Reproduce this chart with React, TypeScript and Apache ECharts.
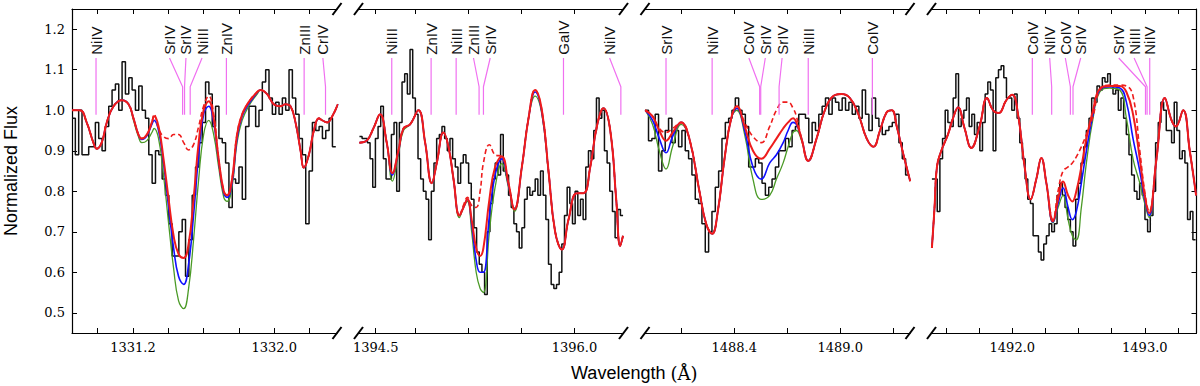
import React, { useEffect, useRef } from "react";
import * as echarts from "echarts";

// ---------- axes ----------
const panelRanges: number[][] = [
  [1330.855, 1332.355],
  [1394.37, 1396.37],
  [1487.895, 1489.395],
  [1491.39, 1493.39],
];
const panelTicks: number[][] = [
  [1331.0, 1331.2, 1331.4, 1331.6, 1331.8, 1332.0, 1332.2],
  [1394.5, 1394.8, 1395.2, 1395.6, 1396.0],
  [1488.1, 1488.4, 1488.7, 1489.0, 1489.3],
  [1491.5, 1491.75, 1492.0, 1492.25, 1492.5, 1492.75, 1493.0, 1493.25],
];
const panelTickLabels: number[][] = [
  [1331.2, 1332.0],
  [1394.5, 1396.0],
  [1488.4, 1489.0],
  [1492.0, 1493.0],
];
const yTicks = [0.5, 0.6, 0.7, 0.8, 0.9, 1.0, 1.1, 1.2];

// ---------- observed spectrum (binned) ----------
const p1Start = 1330.855;
const p1Bin = 0.0189;
const p1Flux = [
  0.98, 0.89, 1.0, 0.89, 0.89, 0.91, 0.91, 0.97, 0.93, 0.9,
  0.96, 1.01, 1.05, 1.065, 1.0, 1.12, 1.04, 1.08, 1.05, 1.0,
  1.06, 1.0, 0.98, 0.89, 0.82, 0.9, 0.89, 0.83, 0.79, 0.72,
  0.64, 0.64, 0.7, 0.73, 0.59, 0.68, 0.79, 0.86, 0.92, 0.97,
  1.07, 1.04, 0.96, 1.01, 0.93, 0.92, 0.87, 0.76, 0.83, 0.82,
  0.86, 0.78, 0.96, 1.01, 1.01, 0.96, 1.0, 1.07, 1.1, 1.03,
  0.99, 1.02, 0.99, 1.03, 1.0, 1.1, 1.03, 0.99, 0.93, 0.89,
  0.72, 0.85, 0.97, 0.95, 0.96, 0.93, 0.95, 0.98, 0.91,
];
const p2Start = 1394.377;
const p2Bin = 0.0201;
const p2Flux = [
  0.935, 0.93, 0.93, 0.92, 0.88, 0.81, 0.93, 0.96, 1.01, 0.88,
  0.83, 0.83, 0.94, 0.97, 0.8, 0.97, 1.07, 1.09, 1.04, 1.15,
  1.03, 0.99, 0.88, 0.83, 0.8, 0.78, 0.68, 0.8, 0.87, 0.93,
  0.94, 0.96, 0.93, 0.9, 0.93, 0.88, 0.86, 0.82, 0.87, 0.89,
  0.87, 0.82, 0.78, 0.71, 0.65, 0.62, 0.6, 0.545, 0.7, 0.77,
  0.83, 0.87, 0.84, 0.94, 0.85, 0.84, 0.79, 0.76, 0.72, 0.7,
  0.66, 0.71, 0.78, 0.81, 0.79, 0.8, 0.83, 0.79, 0.85, 0.79,
  0.73, 0.62, 0.57, 0.56, 0.57, 0.6, 0.67, 0.74, 0.81, 0.77,
  0.72, 0.8, 0.74, 0.78, 0.73, 0.86, 0.9, 0.88, 0.95, 1.03,
  0.98, 1.0, 0.9, 0.87, 0.8, 0.75, 0.685, 0.755, 0.74,
];
const p3Start = 1487.896;
const p3Bin = 0.0189;
const p3Flux = [
  1.0, 0.925, 0.93, 0.99, 0.85, 0.9, 0.95, 0.98, 0.92, 0.95,
  0.91, 0.95, 0.9, 0.88, 0.84, 0.78, 0.77, 0.72, 0.65, 0.7,
  0.75, 0.81, 0.85, 0.93, 0.97, 0.98, 1.0, 1.03, 1.0, 0.99,
  0.96, 0.86, 0.86, 0.88, 0.87, 0.82, 0.79, 0.81, 0.83, 0.86,
  0.9, 0.9, 0.93, 0.91, 0.95, 0.96, 0.99, 0.99, 0.98, 0.92,
  0.97, 0.95, 0.99, 1.01, 1.03, 0.99, 1.03, 1.02, 1.0, 1.03,
  1.0, 1.02, 0.99, 1.01, 0.98, 1.05, 0.99, 0.95, 1.03, 0.98,
  0.96, 0.94, 0.95, 0.96, 0.97, 0.99, 0.92, 0.88, 0.84,
];
const p4Start = 1491.393;
const p4Bin = 0.0201;
const p4Flux = [
  0.83, 0.83, 0.75, 0.88, 0.93, 1.0, 0.97, 0.96, 1.03, 1.09,
  0.96, 0.98, 1.0, 1.03, 0.96, 0.99, 0.94, 0.97, 0.9, 0.97,
  1.04, 1.07, 1.05, 0.9, 1.08, 1.1, 1.11, 1.08, 1.03, 1.03,
  1.0, 1.04, 0.98, 0.92, 0.88, 0.83, 0.78, 0.77, 0.69, 0.69,
  0.65, 0.63, 0.67, 0.69, 0.72, 0.7, 0.72, 0.79, 0.82, 0.79,
  0.76, 0.73, 0.7, 0.665, 0.78, 0.82, 0.87, 0.91, 0.95, 0.98,
  1.03, 1.02, 1.06, 1.05, 1.08, 1.07, 1.09, 1.06, 1.04, 1.05,
  1.0, 1.03, 0.98, 0.94, 0.89, 0.84, 0.8, 0.78, 0.82, 0.79,
  0.73, 0.7, 0.74, 0.8, 0.92, 0.97, 1.02, 1.0, 0.95, 0.95,
  0.92, 1.02, 0.95, 0.88, 0.9, 0.87, 0.73, 0.75, 0.68,
];

// ---------- model curves ----------
const p1Wave = [
  1330.855, 1330.9, 1330.938, 1330.976, 1330.995, 1331.023, 1331.052, 1331.09, 1331.137, 1331.175,
  1331.203, 1331.231, 1331.25, 1331.279, 1331.307, 1331.32, 1331.345, 1331.373, 1331.402, 1331.43,
  1331.458, 1331.487, 1331.515, 1331.543, 1331.572, 1331.6, 1331.629, 1331.657, 1331.685, 1331.714,
  1331.733, 1331.761, 1331.789, 1331.818, 1331.855, 1331.903, 1331.922, 1331.959, 1331.997, 1332.035,
  1332.063, 1332.092, 1332.12, 1332.149, 1332.167, 1332.196, 1332.224, 1332.253, 1332.272, 1332.3,
  1332.328, 1332.36,
];
const p1Red = [
  1.0, 1.0, 0.97, 0.92, 0.905, 0.92, 0.97, 1.01, 1.025, 1.015,
  0.98, 0.94, 0.93, 0.94, 0.97, 0.985, 0.96, 0.88, 0.78, 0.69,
  0.645, 0.635, 0.67, 0.78, 0.92, 1.0, 1.022, 0.98, 0.88, 0.8,
  0.79, 0.83, 0.94, 0.99, 1.02, 1.045, 1.05, 1.04, 1.015, 1.01,
  1.015, 1.01, 0.97, 0.9, 0.858, 0.89, 0.95, 0.98, 0.975, 0.97,
  0.985, 1.015,
];
const p1Blue = [
  1.0, 1.0, 0.97, 0.92, 0.905, 0.92, 0.97, 1.01, 1.025, 1.015,
  0.98, 0.94, 0.928, 0.937, 0.965, 0.975, 0.95, 0.87, 0.76, 0.66,
  0.59, 0.57, 0.62, 0.74, 0.89, 0.99, 1.01, 0.97, 0.875, 0.795,
  0.785, 0.82, 0.93, 0.985, 1.015, 1.043, 1.05, 1.04, 1.015, 1.01,
  1.015, 1.01, 0.97, 0.9, 0.858, 0.89, 0.95, 0.98, 0.975, 0.97,
  0.985, 1.015,
];
const p1Green = [
  1.0, 1.0, 0.97, 0.92, 0.905, 0.92, 0.97, 1.01, 1.025, 1.015,
  0.975, 0.935, 0.92, 0.925, 0.945, 0.955, 0.93, 0.84, 0.72, 0.61,
  0.53, 0.51, 0.56, 0.68, 0.83, 0.94, 0.975, 0.94, 0.86, 0.785,
  0.775, 0.81, 0.92, 0.975, 1.01, 1.04, 1.05, 1.04, 1.015, 1.01,
  1.015, 1.01, 0.97, 0.9, 0.858, 0.89, 0.95, 0.98, 0.975, 0.97,
  0.985, 1.015,
];
const p1Dash = [
  1.0, 1.0, 0.97, 0.92, 0.905, 0.92, 0.97, 1.01, 1.025, 1.015,
  0.98, 0.94, 0.93, 0.94, 0.97, 0.99, 0.955, 0.935, 0.93, 0.94,
  0.94, 0.92, 0.902, 0.915, 0.96, 1.01, 1.035, 0.99, 0.88, 0.8,
  0.79, 0.83, 0.94, 0.99, 1.02, 1.045, 1.05, 1.04, 1.015, 1.01,
  1.015, 1.01, 0.97, 0.9, 0.858, 0.89, 0.95, 0.98, 0.975, 0.97,
  0.985, 1.015,
];

const p2Wave = [
  1394.377, 1394.432, 1394.482, 1394.533, 1394.583, 1394.626, 1394.671, 1394.709, 1394.759, 1394.822,
  1394.873, 1394.923, 1394.961, 1395.011, 1395.049, 1395.087, 1395.132, 1395.162, 1395.192, 1395.224,
  1395.258, 1395.288, 1395.313, 1395.358, 1395.401, 1395.452, 1395.502, 1395.547, 1395.603, 1395.653,
  1395.703, 1395.754, 1395.804, 1395.854, 1395.905, 1395.955, 1396.018, 1396.068, 1396.119, 1396.169,
  1396.219, 1396.27, 1396.315, 1396.345, 1396.366,
];
const p2Red = [
  0.92, 0.925, 0.955, 0.99, 0.92, 0.845, 0.9, 0.955, 0.965, 1.0,
  0.92, 0.82, 0.87, 0.945, 0.91, 0.83, 0.74, 0.76, 0.78, 0.73,
  0.66, 0.64, 0.66, 0.78, 0.86, 0.886, 0.82, 0.755, 0.86, 0.98,
  1.05, 1.0, 0.85, 0.7, 0.656, 0.73, 0.795, 0.795, 0.86, 0.96,
  1.005, 0.95, 0.78, 0.665, 0.69,
];
const p2Blue = [
  0.92, 0.925, 0.955, 0.99, 0.92, 0.84, 0.897, 0.955, 0.965, 1.0,
  0.92, 0.82, 0.87, 0.945, 0.91, 0.83, 0.74, 0.76, 0.78, 0.72,
  0.63, 0.6, 0.6, 0.74, 0.84, 0.88, 0.815, 0.755, 0.86, 0.98,
  1.045, 0.995, 0.85, 0.7, 0.656, 0.73, 0.795, 0.795, 0.86, 0.96,
  1.005, 0.95, 0.78, 0.665, 0.69,
];
const p2Green = [
  0.92, 0.925, 0.955, 0.99, 0.92, 0.825, 0.89, 0.95, 0.965, 1.0,
  0.92, 0.82, 0.87, 0.945, 0.91, 0.83, 0.735, 0.76, 0.775, 0.7,
  0.6, 0.56, 0.55, 0.7, 0.81, 0.868, 0.81, 0.75, 0.86, 0.98,
  1.035, 0.99, 0.845, 0.7, 0.656, 0.73, 0.795, 0.795, 0.86, 0.96,
  1.005, 0.95, 0.78, 0.665, 0.69,
];
const p2Dash = [
  0.92, 0.925, 0.955, 0.99, 0.92, 0.845, 0.9, 0.955, 0.965, 1.0,
  0.92, 0.82, 0.87, 0.945, 0.91, 0.83, 0.74, 0.765, 0.785, 0.765,
  0.76, 0.8, 0.87, 0.915, 0.89, 0.886, 0.82, 0.755, 0.86, 0.98,
  1.05, 1.0, 0.85, 0.7, 0.656, 0.73, 0.795, 0.795, 0.86, 0.96,
  1.005, 0.95, 0.78, 0.665, 0.69,
];

const p3Wave = [
  1487.896, 1487.938, 1487.976, 1488.014, 1488.051, 1488.099, 1488.146, 1488.203, 1488.241, 1488.275,
  1488.307, 1488.345, 1488.383, 1488.415, 1488.459, 1488.506, 1488.553, 1488.601, 1488.639, 1488.677,
  1488.705, 1488.733, 1488.752, 1488.781, 1488.819, 1488.866, 1488.913, 1488.961, 1489.008, 1489.055,
  1489.103, 1489.15, 1489.188, 1489.225, 1489.263, 1489.292, 1489.32, 1489.358, 1489.396,
];
const p3Red = [
  1.0, 0.985, 0.95, 0.925, 0.945, 0.97, 0.93, 0.8, 0.72, 0.695,
  0.75, 0.88, 0.98, 1.01, 0.96, 0.9, 0.88, 0.905, 0.93, 0.955,
  0.97, 0.98, 0.97, 0.93, 0.875, 0.93, 1.0, 1.035, 1.04, 1.03,
  0.99, 0.93, 0.91, 0.95, 0.995, 1.0, 0.96, 0.89, 0.825,
];
const p3Blue = [
  1.0, 0.975, 0.93, 0.895, 0.935, 0.97, 0.93, 0.8, 0.72, 0.695,
  0.75, 0.88, 0.98, 1.005, 0.95, 0.86, 0.83, 0.87, 0.89, 0.92,
  0.95, 0.97, 0.965, 0.93, 0.875, 0.93, 1.0, 1.035, 1.04, 1.03,
  0.99, 0.93, 0.91, 0.95, 0.995, 1.0, 0.96, 0.89, 0.825,
];
const p3Green = [
  1.0, 0.965, 0.9, 0.855, 0.91, 0.965, 0.93, 0.8, 0.72, 0.695,
  0.75, 0.88, 0.98, 1.0, 0.94, 0.83, 0.78, 0.79, 0.83, 0.87,
  0.91, 0.945, 0.95, 0.925, 0.875, 0.93, 1.0, 1.035, 1.04, 1.03,
  0.99, 0.93, 0.91, 0.95, 0.995, 1.0, 0.96, 0.89, 0.825,
];
const p3Dash = [
  1.0, 0.985, 0.955, 0.945, 0.955, 0.97, 0.93, 0.8, 0.72, 0.695,
  0.75, 0.88, 0.98, 1.01, 0.97, 0.935, 0.92, 0.96, 1.0, 1.02,
  1.02, 1.005, 0.985, 0.93, 0.875, 0.93, 1.0, 1.035, 1.04, 1.03,
  0.99, 0.93, 0.91, 0.95, 0.995, 1.0, 0.96, 0.89, 0.825,
];

const p4Wave = [
  1491.393, 1491.413, 1491.431, 1491.464, 1491.514, 1491.552, 1491.59, 1491.64, 1491.69, 1491.753,
  1491.809, 1491.854, 1491.897, 1491.955, 1492.0, 1492.043, 1492.093, 1492.138, 1492.181, 1492.219,
  1492.257, 1492.307, 1492.345, 1492.383, 1492.421, 1492.453, 1492.483, 1492.521, 1492.559, 1492.609,
  1492.66, 1492.735, 1492.811, 1492.861, 1492.911, 1492.962, 1492.999, 1493.032, 1493.088, 1493.151,
  1493.202, 1493.234, 1493.289, 1493.339, 1493.387,
];
const p4Red = [
  0.66, 0.76, 0.86, 0.9, 0.94, 0.98, 1.007, 0.955, 0.907, 0.96,
  1.03, 1.0, 0.993, 1.025, 1.038, 0.99, 0.86, 0.78, 0.83, 0.882,
  0.82, 0.726, 0.78, 0.824, 0.79, 0.775, 0.8, 0.86, 0.93, 1.0,
  1.053, 1.06, 1.06, 1.045, 0.99, 0.88, 0.79, 0.746, 0.88, 1.03,
  0.975, 0.96, 1.0, 0.9, 0.79,
];
const p4Blue = [
  0.66, 0.76, 0.86, 0.9, 0.94, 0.98, 1.007, 0.955, 0.907, 0.96,
  1.03, 1.0, 0.993, 1.025, 1.038, 0.99, 0.86, 0.78, 0.83, 0.882,
  0.82, 0.724, 0.77, 0.808, 0.76, 0.73, 0.75, 0.82, 0.9, 0.99,
  1.05, 1.058, 1.055, 1.02, 0.93, 0.85, 0.78, 0.74, 0.88, 1.03,
  0.975, 0.96, 1.0, 0.9, 0.79,
];
const p4Green = [
  0.66, 0.76, 0.86, 0.9, 0.94, 0.98, 1.007, 0.955, 0.907, 0.96,
  1.03, 1.0, 0.993, 1.025, 1.038, 0.99, 0.86, 0.78, 0.83, 0.882,
  0.82, 0.722, 0.76, 0.79, 0.73, 0.69, 0.68, 0.76, 0.87, 0.98,
  1.045, 1.055, 1.05, 0.98, 0.88, 0.82, 0.77, 0.735, 0.88, 1.03,
  0.975, 0.96, 1.0, 0.9, 0.79,
];
const p4Dash = [
  0.66, 0.76, 0.86, 0.9, 0.94, 0.98, 1.007, 0.955, 0.907, 0.96,
  1.03, 1.0, 0.993, 1.025, 1.038, 0.99, 0.86, 0.78, 0.83, 0.882,
  0.82, 0.73, 0.8, 0.85, 0.86, 0.87, 0.885, 0.91, 0.94, 0.985,
  1.05, 1.062, 1.062, 1.06, 1.035, 0.9, 0.8, 0.75, 0.88, 1.03,
  0.975, 0.96, 1.0, 0.9, 0.79,
];

// ---------- line identifications ----------
const p1Ions = ["NiIV", "SrIV", "SrIV", "NiIII", "ZnIV", "ZnIII", "CrIV"];
const p1LabelX = [1330.991, 1331.407, 1331.5, 1331.591, 1331.729, 1332.169, 1332.275];
const p1LineX = [1330.991, 1331.481, 1331.492, 1331.524, 1331.729, 1332.169, 1332.29];
const p2Ions = ["NiIII", "ZnIV", "NiIII", "ZnIII", "SrIV", "GaIV", "NiIV"];
const p2LabelX = [1394.621, 1394.918, 1395.107, 1395.238, 1395.364, 1395.917, 1396.265];
const p2LineX = [1394.621, 1394.918, 1395.107, 1395.28, 1395.313, 1395.917, 1396.35];
const p3Ions = ["SrIV", "NiIV", "CoIV", "SrIV", "SrIV", "NiIII", "CoIV"];
const p3LabelX = [1488.014, 1488.275, 1488.483, 1488.576, 1488.671, 1488.819, 1489.182];
const p3LineX = [1488.014, 1488.275, 1488.544, 1488.55, 1488.654, 1488.819, 1489.182];
const p4Ions = ["CoIV", "NiIV", "CoIV", "SrIV", "SrIV", "NiIII", "NiIV"];
const p4LabelX = [1492.151, 1492.282, 1492.4, 1492.516, 1492.803, 1492.919, 1493.037];
const p4LineX = [1492.151, 1492.297, 1492.438, 1492.458, 1493.005, 1493.017, 1493.037];

// ---------- layout / style (not data) ----------
const GRID_LEFTS = [72, 358.5, 645, 931.5];
const GRID_W = 265;
const GRID_TOP = 9;
const GRID_H = 324;
const Y_MIN = 0.45;
const Y_MAX = 1.25;
const ID_TOP_Y = 1.129;
const ID_KINK_Y = 1.058;
const ID_BOTTOM_Y = 0.989;
const ID_LABEL_Y = 1.137;

const RED = "#ee1c1c";
const BLUE = "#1010ff";
const GREEN = "#4a9a26";
const MAGENTA = "#f070f0";
const SERIF = '"DejaVu Serif", serif';
const SANS = '"Liberation Sans", Arial, sans-serif';

export default function App() {
  const ref = useRef<HTMLDivElement>(null);

  useEffect(() => {
    if (!ref.current) return;
    const chart = echarts.init(ref.current, undefined, { renderer: "svg" });

    const hist = [
      { start: p1Start, bin: p1Bin, flux: p1Flux },
      { start: p2Start, bin: p2Bin, flux: p2Flux },
      { start: p3Start, bin: p3Bin, flux: p3Flux },
      { start: p4Start, bin: p4Bin, flux: p4Flux },
    ];
    const models = [
      { wave: p1Wave, red: p1Red, blue: p1Blue, green: p1Green, dash: p1Dash },
      { wave: p2Wave, red: p2Red, blue: p2Blue, green: p2Green, dash: p2Dash },
      { wave: p3Wave, red: p3Red, blue: p3Blue, green: p3Green, dash: p3Dash },
      { wave: p4Wave, red: p4Red, blue: p4Blue, green: p4Green, dash: p4Dash },
    ];
    const ids = [
      { ions: p1Ions, lx: p1LabelX, x: p1LineX },
      { ions: p2Ions, lx: p2LabelX, x: p2LineX },
      { ions: p3Ions, lx: p3LabelX, x: p3LineX },
      { ions: p4Ions, lx: p4LabelX, x: p4LineX },
    ];

    const axisLine = { show: true, onZero: false, lineStyle: { color: "#000", width: 1.2 } };
    const grids: any[] = [];
    const xAxes: any[] = [];
    const yAxes: any[] = [];
    const series: any[] = [];

    for (let k = 0; k < 4; k++) {
      grids.push({
        left: GRID_LEFTS[k],
        top: GRID_TOP,
        width: GRID_W,
        height: GRID_H,
        containLabel: false,
        outerBoundsMode: "none",
      });
      const [mn, mx] = panelRanges[k];
      xAxes.push({
        type: "value",
        gridIndex: k,
        position: "bottom",
        min: mn,
        max: mx,
        axisLine,
        axisTick: {
          show: true,
          inside: true,
          length: 5,
          customValues: panelTicks[k],
          lineStyle: { color: "#000", width: 1 },
        },
        axisLabel: {
          show: true,
          customValues: panelTickLabels[k],
          formatter: (v: number) => v.toFixed(1),
          fontFamily: SERIF,
          fontSize: 13,
          color: "#000",
          margin: 8,
        },
        splitLine: { show: false },
      });
      xAxes.push({
        type: "value",
        gridIndex: k,
        position: "top",
        min: mn,
        max: mx,
        axisLine,
        axisTick: {
          show: true,
          inside: true,
          length: 5,
          customValues: panelTicks[k],
          lineStyle: { color: "#000", width: 1 },
        },
        axisLabel: { show: false },
        splitLine: { show: false },
      });
      if (k === 0 || k === 3) {
        yAxes.push({
          type: "value",
          gridIndex: k,
          position: k === 0 ? "left" : "right",
          min: Y_MIN,
          max: Y_MAX,
          axisLine,
          axisTick: {
            show: true,
            inside: true,
            length: 5,
            customValues: yTicks,
            lineStyle: { color: "#000", width: 1 },
          },
          axisLabel: {
            show: k === 0,
            customValues: yTicks,
            formatter: (v: number) => v.toFixed(1),
            fontFamily: SERIF,
            fontSize: 13,
            color: "#000",
            margin: 7,
          },
          splitLine: { show: false },
        });
      } else {
        yAxes.push({ type: "value", gridIndex: k, min: Y_MIN, max: Y_MAX, show: false, splitLine: { show: false } });
      }

      // observed histogram
      const h = hist[k];
      const hdata: number[][] = h.flux.map((v, i) => [h.start + i * h.bin, v]);
      hdata.push([h.start + h.flux.length * h.bin, h.flux[h.flux.length - 1]]);
      series.push({
        type: "line",
        xAxisIndex: 2 * k,
        yAxisIndex: k,
        data: hdata,
        step: "end",
        showSymbol: false,
        silent: true,
        clip: true,
        lineStyle: { color: "#111", width: 1.5 },
      });

      const m = models[k];
      const mk = (vals: number[], color: string, width: number, type: any) => ({
        type: "line",
        xAxisIndex: 2 * k,
        yAxisIndex: k,
        data: m.wave.map((x, i) => [x, vals[i]]),
        smooth: 0.45,
        showSymbol: false,
        silent: true,
        clip: true,
        lineStyle: { color, width, type },
      });
      series.push(mk(m.green, GREEN, 1.3, "solid"));
      series.push(mk(m.blue, BLUE, 1.6, "solid"));
      series.push(mk(m.dash, RED, 1.6, [5, 3]));
      series.push(mk(m.red, RED, 2, "solid"));

      // identification markers
      const id = ids[k];
      id.ions.forEach((_, j) => {
        series.push({
          type: "line",
          xAxisIndex: 2 * k,
          yAxisIndex: k,
          data: [
            [id.lx[j], ID_TOP_Y],
            [id.x[j], ID_KINK_Y],
            [id.x[j], ID_BOTTOM_Y],
          ],
          showSymbol: false,
          silent: true,
          lineStyle: { color: MAGENTA, width: 1.2 },
        });
      });
      series.push({
        type: "custom",
        xAxisIndex: 2 * k,
        yAxisIndex: k,
        silent: true,
        clip: false,
        data: id.lx.map((x) => [x, ID_LABEL_Y]),
        renderItem: (params: any, api: any) => {
          const p = api.coord([api.value(0), api.value(1)]);
          return {
            type: "text",
            x: p[0],
            y: p[1],
            rotation: Math.PI / 2,
            style: {
              text: id.ions[params.dataIndex],
              fill: "#111",
              fontSize: 15,
              fontFamily: SANS,
              align: "left",
              verticalAlign: "middle",
            },
          };
        },
      });
    }

    // broken-axis marks
    const graphics: any[] = [];
    const corners: number[] = [];
    for (let k = 0; k < 4; k++) {
      if (k > 0) corners.push(GRID_LEFTS[k]);
      if (k < 3) corners.push(GRID_LEFTS[k] + GRID_W);
    }
    corners.forEach((cx) => {
      [GRID_TOP, GRID_TOP + GRID_H].forEach((cy) => {
        graphics.push({
          type: "line",
          silent: true,
          shape: { x1: cx - 4.5, y1: cy + 6, x2: cx + 4.5, y2: cy - 6 },
          style: { stroke: "#000", lineWidth: 2 },
        });
      });
    });
    graphics.push({
      type: "text",
      x: 11,
      y: GRID_TOP + GRID_H / 2,
      rotation: Math.PI / 2,
      silent: true,
      style: {
        text: "Normalized Flux",
        fill: "#000",
        fontSize: 18,
        fontFamily: SANS,
        align: "center",
        verticalAlign: "middle",
      },
    });
    graphics.push({
      type: "text",
      x: (GRID_LEFTS[0] + GRID_LEFTS[3] + GRID_W) / 2,
      y: 373,
      silent: true,
      style: {
        text: "{a|Wavelength }{b|(Å)}",
        align: "center",
        verticalAlign: "middle",
        rich: {
          a: { fontSize: 18, fontFamily: SANS, fill: "#000" },
          b: { fontSize: 18, fontFamily: SERIF, fill: "#000" },
        },
      },
    });

    chart.setOption({
      animation: false,
      backgroundColor: "#fff",
      grid: grids,
      xAxis: xAxes,
      yAxis: yAxes,
      series,
      graphic: graphics,
    });

    return () => chart.dispose();
  }, []);

  return (
    <div
      ref={ref}
      style={{ position: "fixed", left: 0, top: 0, width: 1200, height: 386, background: "#fff" }}
    />
  );
}
